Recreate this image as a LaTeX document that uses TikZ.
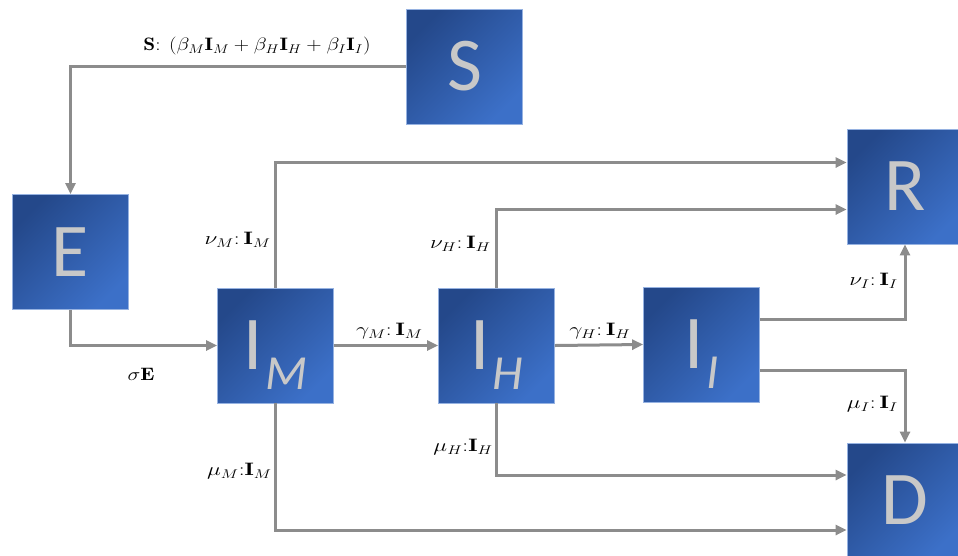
\RequirePackage{fix-cm}
\documentclass[tikz,border=0pt]{standalone}
\usepackage{amsmath}
\usepackage{fontspec}
\newfontfamily\boxfont{Carlito}
\usetikzlibrary{arrows.meta}
\definecolor{linegray}{RGB}{140,140,140}
\definecolor{boxdark}{RGB}{36,72,138}
\definecolor{boxlight}{RGB}{60,112,200}
\definecolor{boxedge}{RGB}{150,178,225}
\definecolor{lettergray}{RGB}{200,200,200}
\newcommand\compsub[1]{\hspace{3pt}\raisebox{-20pt}{\fontsize{49}{49}\selectfont\itshape #1}}
\newcommand\lbl[2][1.3]{\scalebox{#1}[1]{#2}}
\begin{document}
\begin{tikzpicture}[x=1pt,y=-1pt,
  comp/.style={minimum width=116pt, minimum height=115pt, inner sep=0pt,
    text height=48pt, text depth=0pt, draw=boxedge, line width=0.8pt,
    top color=boxdark, bottom color=boxlight, shading angle=45,
    text=lettergray, font=\boxfont\fontsize{76}{76}\selectfont},
  flow/.style={draw=linegray, line width=3pt, -{Triangle[length=11pt,width=10pt]}},
  lab/.style={inner sep=0pt, font=\fontsize{18}{20}\selectfont}]
\useasboundingbox (0,0) rectangle (958,555);
\fill[white] (0,0) rectangle (958,555);
% compartments
\node[comp] (S)  at (464.5,66.5)  {S};
\node[comp] (E)  at (70.5,252)    {E};
\node[comp] (IM) at (275.5,345.5) {I\compsub{M}};
\node[comp] (IH) at (496.5,345.5) {I\compsub{H}};
\node[comp] (II) at (701.5,344.5) {I\compsub{I}};
\node[comp] (R)  at (905,186.5)   {R};
\node[comp] (D)  at (905,500.5)   {D};
% flows
\draw[flow] (S.west) -| (E.north);
\draw[flow] (E.south) |- (IM.west);
\draw[flow] (IM.north) |- ([yshift=24pt]R.west);
\draw[flow] (IH.north) |- ([yshift=-23pt]R.west);
\draw[flow] (IM.east) -- (IH.west);
\draw[flow] (IH.east) -- (II.west);
\draw[flow] ([yshift=25.5pt]II.east) -| (R.south);
\draw[flow] ([yshift=-25.5pt]II.east) -| (D.north);
\draw[flow] (IH.south) |- ([yshift=25.5pt]D.west);
\draw[flow] (IM.south) |- ([yshift=-29.5pt]D.west);
% labels
\node[lab] (lS) at (257,46) {\lbl[1.18]{$\mathbf{S}$: $(\beta_M\mathbf{I}_M+\beta_H\mathbf{I}_H+\beta_I\mathbf{I}_I)$}};
\node[lab] (lsig) at (141,374) {\lbl[1.2]{$\sigma\mathbf{E}$}};
\node[lab, anchor=east] (lnuM) at (271,240) {\lbl{$\nu_M{:}\,\mathbf{I}_M$}};
\node[lab] (lgamM) at (389.5,331) {\lbl{$\gamma_M{:}\,\mathbf{I}_M$}};
\node[lab, anchor=east] (lnuH) at (491,244) {\lbl{$\nu_H{:}\,\mathbf{I}_H$}};
\node[lab] (lgamH) at (600,331) {\lbl{$\gamma_H{:}\,\mathbf{I}_H$}};
\node[lab, anchor=east] (lnuI) at (898,281) {\lbl{$\nu_I{:}\,\mathbf{I}_I$}};
\node[lab, anchor=east] (lmuI) at (898,404) {\lbl{$\mu_I{:}\,\mathbf{I}_I$}};
\node[lab, anchor=east] (lmuH) at (493,447) {\lbl{$\mu_H{:}\mathbf{I}_H$}};
\node[lab, anchor=east] (lmuM) at (272,471) {\lbl{$\mu_M{:}\mathbf{I}_M$}};
\end{tikzpicture}
\end{document}
